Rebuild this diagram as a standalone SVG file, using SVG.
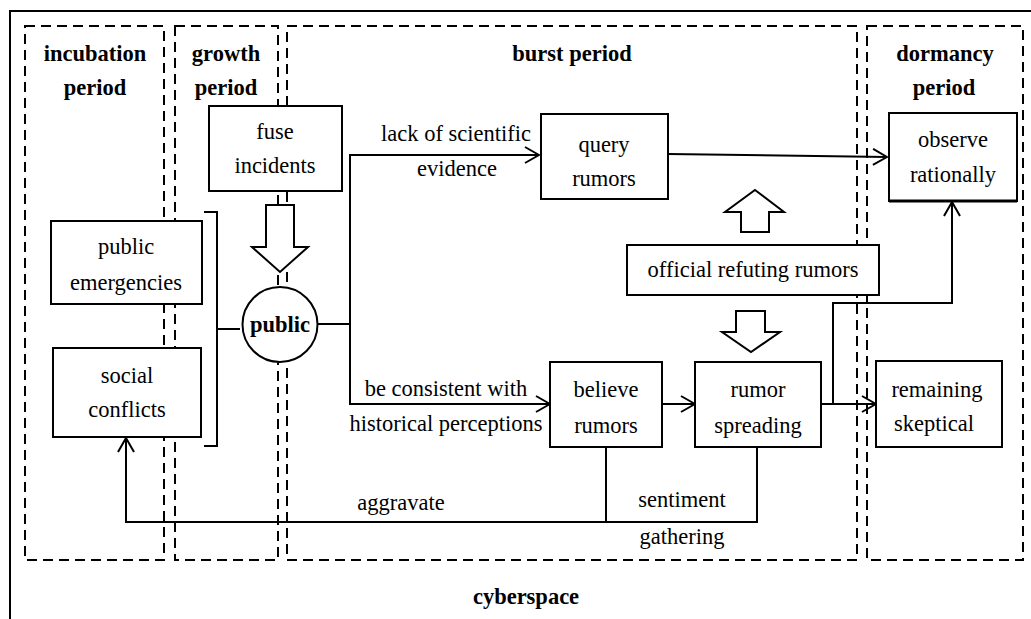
<svg xmlns="http://www.w3.org/2000/svg" width="1031" height="619" viewBox="0 0 1031 619">
<style>
.t{font-family:"Liberation Serif","Times New Roman",serif;font-size:22.5px;fill:#000;text-anchor:middle}
.b{font-weight:bold}
.box{fill:#fff;stroke:#000;stroke-width:2}
.dash{fill:none;stroke:#000;stroke-width:2;stroke-dasharray:10 6}
.ln{fill:none;stroke:#000;stroke-width:2}
.hollow{fill:#fff;stroke:#000;stroke-width:2;stroke-linejoin:miter}
</style>
<defs>
<marker id="arr" viewBox="0 0 16 18" refX="15" refY="9" markerWidth="16" markerHeight="18" markerUnits="userSpaceOnUse" orient="auto">
<path d="M1,1 L15,9 L1,17" fill="none" stroke="#000" stroke-width="2"/>
</marker>
</defs>
<rect width="1031" height="619" fill="#fff"/>
<g id="frame">
<rect x="10" y="11" width="1030" height="620" fill="none" stroke="#000" stroke-width="2"/>
<text class="t b" x="526" y="604">cyberspace</text>
</g>
<g id="periods">
<rect class="dash" x="25" y="26" width="139" height="534"/>
<rect class="dash" x="175" y="26" width="103" height="534"/>
<rect class="dash" x="287" y="26" width="570" height="534"/>
<rect class="dash" x="867" y="26" width="156" height="534"/>
<text class="t b" x="95" y="61">incubation</text>
<text class="t b" x="95" y="95">period</text>
<text class="t b" x="226" y="61">growth</text>
<text class="t b" x="226" y="95">period</text>
<text class="t b" x="572" y="61">burst period</text>
<text class="t b" x="945" y="61">dormancy</text>
<text class="t b" x="944" y="95">period</text>
</g>
<g id="connectors">
<polyline class="ln" points="204,212 217,212 217,446 204,446"/>
<line class="ln" x1="217" y1="329" x2="240" y2="329"/>
<line class="ln" x1="317" y1="324" x2="350" y2="324"/>
<polyline class="ln" points="350,324 350,155 539,155" marker-end="url(#arr)"/>
<polyline class="ln" points="350,324 350,404 550,404" marker-end="url(#arr)"/>
<line class="ln" x1="668" y1="154" x2="887" y2="157" marker-end="url(#arr)"/>
<line class="ln" x1="662" y1="404" x2="695" y2="404" marker-end="url(#arr)"/>
<line class="ln" x1="821" y1="404" x2="876" y2="404" marker-end="url(#arr)"/>
<polyline class="ln" points="833,404 833,303 952,303 952,202" marker-end="url(#arr)"/>
<polyline class="ln" points="606,447 606,522"/>
<polyline class="ln" points="757,447 757,522 126,522 126,438" marker-end="url(#arr)"/>
<polygon class="hollow" points="266,205 294,205 294,247 308,247 280,272 252,247 266,247"/>
<polygon class="hollow" points="755,190 784,212 769,212 769,232 741,232 741,212 725,212"/>
<polygon class="hollow" points="736,311 765,311 765,332 780,332 751,352 722,332 736,332"/>
<text class="t" x="456" y="141">lack of scientific</text>
<text class="t" x="457" y="176">evidence</text>
<text class="t" x="446" y="396">be consistent with</text>
<text class="t" x="446" y="431">historical perceptions</text>
<text class="t" x="401" y="510">aggravate</text>
<text class="t" x="682" y="507">sentiment</text>
<text class="t" x="682" y="544">gathering</text>
</g>
<g id="fuse">
<rect class="box" x="209" y="106" width="133" height="85"/>
<text class="t" x="275" y="139">fuse</text>
<text class="t" x="275" y="173">incidents</text>
</g>
<g id="public-emergencies">
<rect class="box" x="51" y="221" width="151" height="83"/>
<text class="t" x="126" y="254">public</text>
<text class="t" x="126" y="290">emergencies</text>
</g>
<g id="social-conflicts">
<rect class="box" x="53" y="348" width="148" height="89"/>
<text class="t" x="127" y="383">social</text>
<text class="t" x="127" y="417">conflicts</text>
</g>
<g id="public">
<circle class="box" cx="280" cy="324.5" r="37.5"/>
<text class="t b" x="280" y="332">public</text>
</g>
<g id="query">
<rect class="box" x="541" y="114" width="127" height="85"/>
<text class="t" x="604" y="152">query</text>
<text class="t" x="604" y="186">rumors</text>
</g>
<g id="official">
<rect class="box" x="627" y="245" width="252" height="50"/>
<text class="t" x="753" y="277">official refuting rumors</text>
</g>
<g id="believe">
<rect class="box" x="550" y="362" width="112" height="85"/>
<text class="t" x="606" y="397">believe</text>
<text class="t" x="606" y="433">rumors</text>
</g>
<g id="spreading">
<rect class="box" x="695" y="362" width="126" height="85"/>
<text class="t" x="758" y="397">rumor</text>
<text class="t" x="758" y="433">spreading</text>
</g>
<g id="observe">
<rect class="box" x="889" y="113" width="128" height="88"/>
<line x1="889" y1="201" x2="1017" y2="201" stroke="#000" stroke-width="3"/>
<text class="t" x="953" y="147">observe</text>
<text class="t" x="953" y="182">rationally</text>
</g>
<g id="skeptical">
<rect class="box" x="876" y="361" width="126" height="86"/>
<text class="t" x="937" y="397">remaining</text>
<text class="t" x="934" y="431">skeptical</text>
</g>
</svg>
